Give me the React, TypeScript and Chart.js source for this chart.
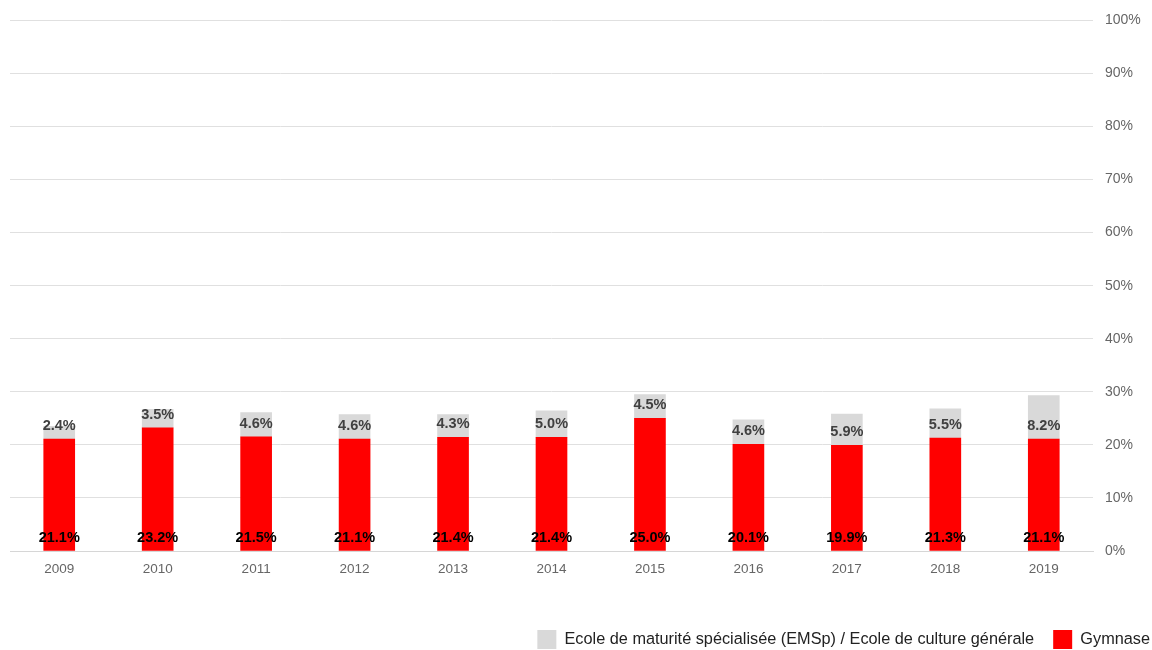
import React, { useEffect, useRef } from "react";
import { Chart, registerables } from "chart.js";

Chart.register(...registerables);

const years = ["2009", "2010", "2011", "2012", "2013", "2014", "2015", "2016", "2017", "2018", "2019"];
const gymnase = [21.1, 23.2, 21.5, 21.1, 21.4, 21.4, 25.0, 20.1, 19.9, 21.3, 21.1];
const emsp = [2.4, 3.5, 4.6, 4.6, 4.3, 5.0, 4.5, 4.6, 5.9, 5.5, 8.2];
const gymnaseLabel = "Gymnase";
const emspLabel = "Ecole de maturité spécialisée (EMSp) / Ecole de culture générale";

const FONT = "'Liberation Sans', Arial, sans-serif";

const labelPlugin = {
  id: "segLabels",
  afterDatasetsDraw(chart: any) {
    const ctx = chart.ctx;
    ctx.save();
    ctx.textAlign = "center";
    ctx.textBaseline = "middle";
    ctx.font = `bold 14.5px ${FONT}`;
    chart.data.datasets.forEach((ds: any, di: number) => {
      const meta = chart.getDatasetMeta(di);
      ctx.fillStyle = di === 0 ? "#000000" : "#404040";
      meta.data.forEach((el: any, i: number) => {
        const v = ds.data[i];
        ctx.fillText(v.toFixed(1) + "%", el.x, el.base - 13);
      });
    });
    ctx.restore();
  },
};

// nudge the legend to the bottom-right corner like the reference
const legendShift = {
  id: "legendShift",
  afterLayout(chart: any) {
    const lg = chart.legend;
    if (!lg) return;
    const dx = 1169 - lg.right;
    const dy = 611 - lg.top;
    lg.left += dx;
    lg.right += dx;
    lg.top += dy;
    lg.bottom += dy;
  },
};

export default function App() {
  const ref = useRef<HTMLCanvasElement>(null);
  useEffect(() => {
    document.body.style.margin = "0";
    const chart = new Chart(ref.current!, {
      type: "bar",
      data: {
        labels: years,
        datasets: [
          { label: gymnaseLabel, data: gymnase, backgroundColor: "#ff0000", stack: "s" },
          { label: emspLabel, data: emsp, backgroundColor: "#d9d9d9", stack: "s" },
        ],
      },
      options: {
        animation: false,
        responsive: false,
        devicePixelRatio: 1,
        layout: { padding: { left: 10, right: 0, top: 20, bottom: 0 } },
        datasets: { bar: { barThickness: 31 } },
        scales: {
          x: {
            stacked: true,
            grid: { display: false, drawTicks: false },
            border: { display: true, color: "#d6d6d6" },
            ticks: { color: "#666666", font: { family: FONT, size: 13.5 }, padding: 10 },
            afterFit(scale: any) { scale.height = 51; },
          },
          y: {
            stacked: true,
            position: "right",
            min: 0,
            max: 100,
            grid: { color: "#e0e0e0", drawTicks: false },
            border: { display: false },
            ticks: {
              stepSize: 10,
              color: "#666666",
              font: { family: FONT, size: 14 },
              padding: 12,
              crossAlign: "near",
              callback: (v: any) => v + "%",
            },
            afterFit(scale: any) { scale.width = 59; },
          },
        },
        plugins: {
          tooltip: { enabled: false },
          legend: {
            position: "bottom",
            align: "end",
            reverse: true,
            labels: {
              color: "#222222",
              font: { family: FONT, size: 16.3 },
              boxWidth: 19,
              boxHeight: 19,
              padding: 19,
            },
          },
        },
      },
      plugins: [labelPlugin, legendShift],
    });
    return () => chart.destroy();
  }, []);
  return (
    <div style={{ position: "absolute", left: 0, top: 0, width: 1152, height: 650 }}>
      <canvas ref={ref} width={1152} height={650} style={{ width: 1152, height: 650 }} />
    </div>
  );
}
